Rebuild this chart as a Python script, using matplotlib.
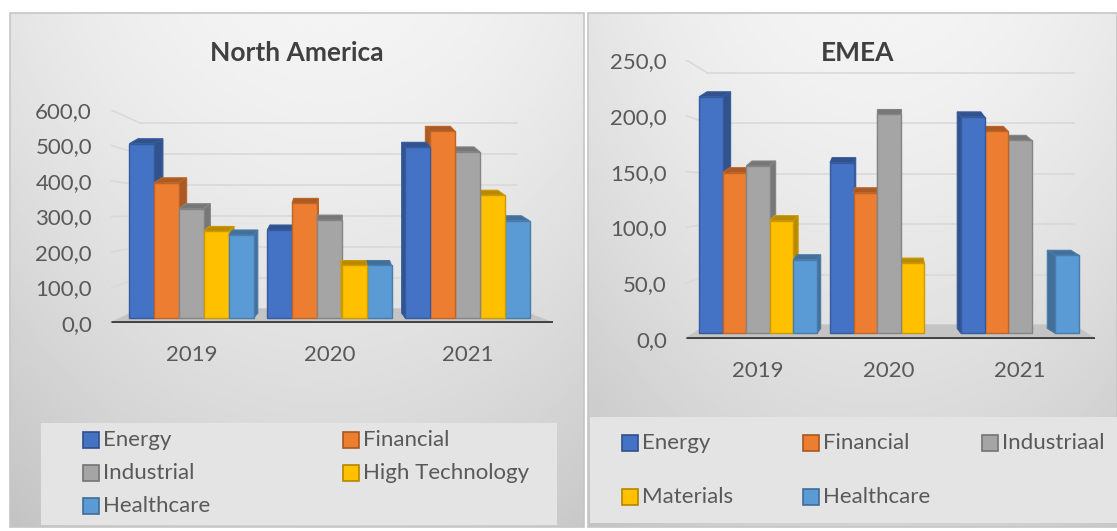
import numpy as np
import matplotlib.pyplot as plt
from matplotlib.patches import Rectangle
from matplotlib.colors import to_rgb

plt.rcParams['font.family'] = ['Lato', 'DejaVu Sans']

# data
years = ["2019", "2020", "2021"]

na_names = ["Energy", "Financial", "Industrial", "High Technology", "Healthcare"]
na_energy = [505, 262, 495]
na_financial = [395, 337, 540]
na_industrial = [322, 290, 482]
na_hightech = [258, 162, 360]
na_healthcare = [248, 162, 288]

emea_names = ["Energy", "Financial", "Industriaal", "Materials", "Healthcare"]
emea_energy = [217, 158, 199]
emea_financial = [149, 131, 186]
emea_industrial = [155, 202, 178]
emea_materials = [106, 68, None]
emea_healthcare = [71, None, 75]

colors = ["#4472C4", "#ED7D31", "#A5A5A5", "#FFC000", "#5B9BD5"]


def shade(c, f):
    return tuple(np.clip(np.array(to_rgb(c)) * f, 0, 1))


def tick_fmt(v):
    return f"{v:.1f}".replace(".", ",")


def draw_panel(ax, series, ymax, ystep, xlim, back_x, back_a, back_b, vp, dy, base):
    w = 0.18
    ax.set_xlim(*xlim)
    ax.set_ylim(0, ymax)
    ax.patch.set_alpha(0)
    for s in ax.spines.values():
        s.set_visible(False)

    ticks = np.arange(0, ymax + 1, ystep)
    ax.set_yticks(ticks, [tick_fmt(t) for t in ticks])
    ax.set_xticks(range(len(years)), years)
    ax.tick_params(axis='y', length=0, pad=13, labelsize=16, labelcolor="#595959")
    ax.tick_params(axis='x', length=0, pad=16, labelsize=16, labelcolor="#595959")

    # back wall gridlines + slanted part on the side wall
    for t in ticks[1:]:
        tb = back_a + back_b * t
        ax.plot([xlim[0] + 0.01, back_x[0]], [t, tb], color="#d9d9d9", lw=1.2, zorder=1)
        ax.plot([back_x[0], back_x[1]], [tb, tb], color="#d9d9d9", lw=1.2, zorder=1)

    # floor
    ax.fill([xlim[0], xlim[1], back_x[1], back_x[0]], [0, 0, back_a, back_a],
            color="#c4c4c4", zorder=1)

    for j, vals in enumerate(series):
        col = colors[j]
        side = shade(col, 0.72)
        edge = shade(col, 0.8)
        for i, v in enumerate(vals):
            if v is None:
                continue
            x = i + (j - 2) * w
            x0, x1 = x - w / 2, x + w / 2
            dx = -0.045 * (x - vp)
            z = 3 + (j if x < vp else 10 - j) * 0.1
            # top face
            ax.fill([x0, x1, x1 + dx, x0 + dx], [v, v, v + dy, v + dy],
                    color=side, ec=edge, lw=0.8, zorder=z)
            # side face
            sx = x1 if dx > 0 else x0
            ax.fill([sx, sx + dx, sx + dx, sx], [base, base + dy, v + dy, v],
                    color=side, ec=edge, lw=0.8, zorder=z)
            b = ax.bar(x, v - base, bottom=base, width=w, color=col,
                       edgecolor=edge, linewidth=1.0)
            b.patches[0].set_zorder(z + 0.01)

    ax.plot([xlim[0] + 0.01, xlim[1]], [0, 0], color="#404040", lw=3.5,
            solid_capstyle="butt", zorder=8)


fig = plt.figure(figsize=(11.17, 5.31), dpi=100)

# background: two chart panels with soft gradient
bg = fig.add_axes([0, 0, 1, 1])
bg.set_xlim(0, 1117)
bg.set_ylim(531, 0)
bg.axis("off")
bg.set_zorder(0)

gy, gx = np.mgrid[0:1:200j, 0:1:200j]
grad = 0.955 - 0.13 * gy ** 1.3 - 0.05 * (np.abs(gx - 0.55) * 2) ** 2
for (l, r, t, btm) in [(10, 584, 13, 527), (588, 1117, 13, 527)]:
    bg.imshow(grad, cmap="gray", vmin=0, vmax=1, extent=(l, r, btm, t),
              aspect="auto", interpolation="bilinear", zorder=0)
    bg.add_patch(Rectangle((l, t), r - l, btm - t, fill=False, ec="#c6c6c6", lw=1.2, zorder=1))
bg.set_xlim(0, 1117)
bg.set_ylim(531, 0)

# titles
bg.text(297, 53, "North America", ha="center", va="center", fontsize=19,
        fontweight="bold", color="#404040")
bg.text(858, 53, "EMEA", ha="center", va="center", fontsize=19,
        fontweight="bold", color="#404040")

# legend boxes
bg.add_patch(Rectangle((41, 423), 516, 102, fc="#e4e4e4", ec="none", zorder=1))
bg.add_patch(Rectangle((590, 417), 527, 106, fc="#e4e4e4", ec="none", zorder=1))


def draw_legend(names, col_x, row_y, ncol):
    for k, name in enumerate(names):
        cx = col_x[k % ncol]
        cy = row_y[k // ncol]
        bg.add_patch(Rectangle((cx, cy - 8), 16, 16, fc=colors[k],
                               ec=shade(colors[k], 0.7), lw=1.2, zorder=2))
        bg.text(cx + 20, cy, name, ha="left", va="center", fontsize=16,
                color="#595959", zorder=2)


draw_legend(na_names, [83, 343], [440, 473, 506], 2)
draw_legend(emea_names, [622, 803, 982], [443, 497], 3)

# North America
ax1 = fig.add_axes([110 / 1117, 1 - 323 / 531, 443 / 1117, 213 / 531])
ax1.set_zorder(2)
draw_panel(ax1, [na_energy, na_financial, na_industrial, na_hightech, na_healthcare],
           600, 100, (-0.59, 2.62), (-0.372, 2.357), 39.4, 0.873, 1.05, 14, 14)

# EMEA
ax2 = fig.add_axes([685 / 1117, 1 - 339 / 531, 410 / 1117, 279 / 531])
ax2.set_zorder(2)
draw_panel(ax2, [emea_energy, emea_financial, emea_industrial, emea_materials, emea_healthcare],
           250, 50, (-0.557, 2.573), (-0.39, 2.41), 12.5, 0.905, 1.0, 4.5, 5)

fig.savefig("out.png", dpi=100)
